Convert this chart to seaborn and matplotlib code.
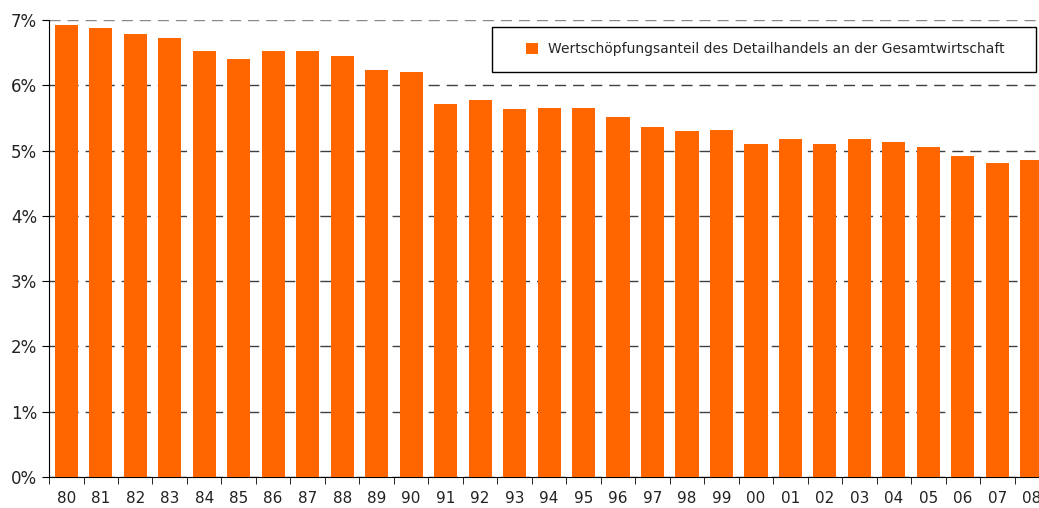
import matplotlib.pyplot as plt
import seaborn as sns
import pandas as pd
from matplotlib.patches import Rectangle
from matplotlib.ticker import FixedLocator, PercentFormatter

sns.set_style("white")
plt.rcParams["font.family"] = ["DejaVu Sans"]

years = ["80", "81", "82", "83", "84", "85", "86", "87", "88", "89",
         "90", "91", "92", "93", "94", "95", "96", "97", "98", "99",
         "00", "01", "02", "03", "04", "05", "06", "07", "08"]
anteil = [6.92, 6.88, 6.78, 6.72, 6.52, 6.40, 6.52, 6.52, 6.45, 6.23,
          6.20, 5.71, 5.78, 5.64, 5.65, 5.65, 5.51, 5.36, 5.30, 5.32,
          5.10, 5.18, 5.10, 5.18, 5.13, 5.05, 4.92, 4.81, 4.85]
legend_label = "Wertschöpfungsanteil des Detailhandels an der Gesamtwirtschaft"

df = pd.DataFrame({"Jahr": years, "Anteil": anteil})

fig = plt.figure(figsize=(10.39, 5.08), dpi=100)
ax = fig.add_axes([0.0472, 0.061, 0.9625, 0.8996])

sns.barplot(data=df, x="Jahr", y="Anteil", color="#FF6600", saturation=1,
            width=0.67, linewidth=0, ax=ax, label=legend_label, zorder=3)

ax.set_ylim(0, 7)
ax.set_xlim(-0.5, len(years) - 0.5)
ax.set_yticks(range(0, 8))
ax.yaxis.set_major_formatter(PercentFormatter(decimals=0))
ax.set_xlabel("")
ax.set_ylabel("")

ax.yaxis.grid(True, linestyle=(0, (8, 5)), color="#404040", linewidth=1, zorder=0)
ax.yaxis.get_gridlines()[-1].set_color("#888888")
ax.set_axisbelow(True)

for s in ["top", "right"]:
    ax.spines[s].set_visible(False)
ax.spines["left"].set_color("black")
ax.spines["bottom"].set_color("black")

# ticks between the categories on the x axis
ax.xaxis.set_minor_locator(FixedLocator([i - 0.5 for i in range(len(years) + 1)]))
ax.tick_params(axis="x", which="major", length=0, labelsize=11, pad=10, labelcolor="#222222")
ax.tick_params(axis="x", which="minor", length=5, color="black", direction="out", bottom=True)
ax.tick_params(axis="y", length=5, color="black", direction="out", left=True,
               labelsize=12, labelcolor="#222222")

# legend box
ax.add_patch(Rectangle((0.4735, 0.8583), 0.5236, 0.0886, transform=fig.transFigure,
                       facecolor="white", edgecolor="black", linewidth=1,
                       zorder=4, clip_on=False))
leg = ax.legend(loc="center", bbox_to_anchor=(0.7365, 0.9026),
                bbox_transform=fig.transFigure, frameon=False, fontsize=10,
                handlelength=0.85, handleheight=0.85, handletextpad=0.7)
leg.set_zorder(5)

fig.savefig("out.png", dpi=100)
